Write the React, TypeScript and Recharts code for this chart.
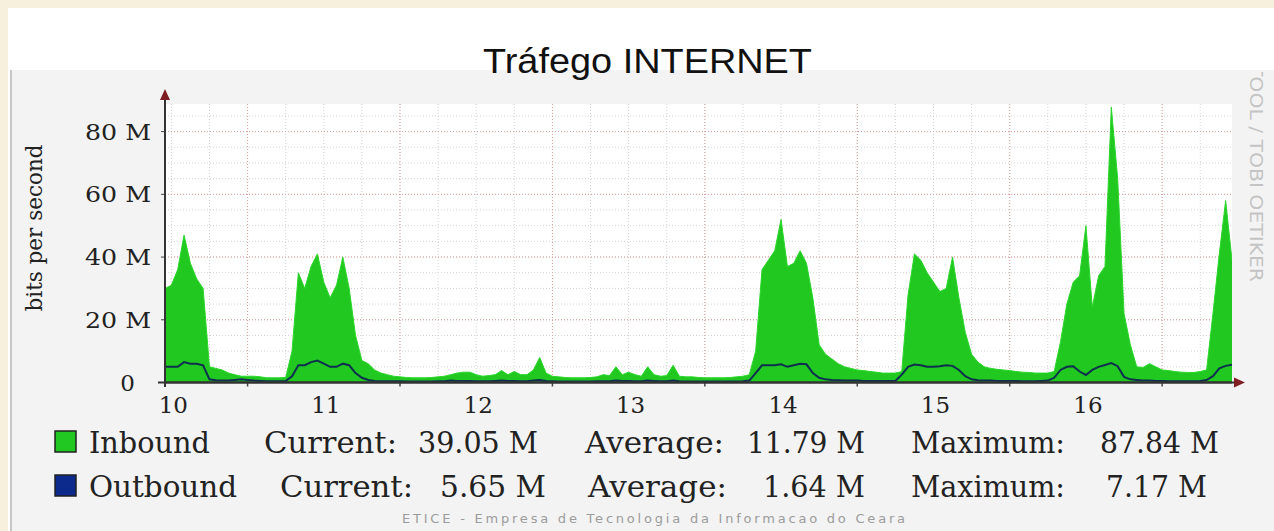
import { ComposedChart, Area, Line, XAxis, YAxis, CartesianGrid } from 'recharts'

// hours counted from midnight of day 10, one sample per hour
const hours = Array.from({ length: 169 }, (_, i) => 11 + i)

const inbound = [
  // day 10, 11h..23h
  30, 31, 36, 47, 38, 33, 30, 5, 4.5, 4, 3, 2.5, 2,
  // day 11
  2, 2, 1.8, 1.5, 1.5, 1.5, 1.6, 10, 35, 30, 37, 41, 32, 27, 31, 40, 30, 15, 7, 6, 4, 3, 2.5, 2,
  // day 12
  1.8, 1.6, 1.5, 1.5, 1.5, 1.6, 1.8, 2, 2.5, 3, 3.3, 3.3, 2.5, 2, 2.2, 2.5, 3.8, 2.5, 3.5, 2.5, 2.5, 4, 8, 3,
  // day 13
  2, 1.8, 1.6, 1.5, 1.5, 1.5, 1.6, 1.8, 2.5, 2.2, 5, 2.5, 3.3, 2.5, 2, 5, 2.5, 2, 2.2, 5.5, 2, 1.8, 1.8, 1.6,
  // day 14
  1.5, 1.5, 1.5, 1.5, 1.6, 1.8, 2, 2.5, 10, 36, 39, 42, 52, 37, 38, 42, 38, 27, 12, 9, 7.5, 6, 5, 4.5,
  // day 15
  4, 3.8, 3.5, 3.3, 3, 3, 3, 3.5, 28, 41, 39, 35, 32, 29, 30, 40, 27, 16, 9, 6.5, 5, 4.5, 4.2, 4,
  // day 16
  3.8, 3.5, 3.3, 3.2, 3, 3, 3, 3.5, 13, 25, 32, 34, 50, 24, 34, 37, 87.8, 65, 22, 12, 5, 4.8, 6, 5,
  // day 17, 0h..11h
  4, 3.8, 3.5, 3.3, 3.2, 3.2, 3.5, 4, 22, 41, 58, 39,
]

const outbound = [
  5, 5, 5, 6.5, 6, 6, 5.5, 1, 0.7, 0.6, 0.6, 0.8, 1,
  0.8, 0.6, 0.5, 0.4, 0.4, 0.4, 0.5, 2, 5.5, 5.5, 6.5, 7, 6, 5, 5, 6, 5.5, 3, 1.5, 0.8, 0.5, 0.4, 0.4, 0.4,
  0.4, 0.3, 0.3, 0.3, 0.3, 0.3, 0.4, 0.4, 0.6, 0.5, 0.5, 0.5, 0.4, 0.4, 0.4, 0.5, 0.6, 0.5, 0.5, 0.4, 0.4, 0.6, 0.8, 0.5,
  0.4, 0.3, 0.3, 0.3, 0.3, 0.3, 0.3, 0.4, 0.4, 0.4, 0.6, 0.5, 0.5, 0.4, 0.4, 0.6, 0.5, 0.4, 0.4, 0.6, 0.4, 0.3, 0.3, 0.3,
  0.3, 0.3, 0.3, 0.3, 0.3, 0.3, 0.4, 0.6, 3, 5.5, 5.5, 5.5, 5.8, 5, 5.5, 6, 5.8, 3, 1.5, 1, 0.8, 0.7, 0.6, 0.6,
  0.6, 0.5, 0.5, 0.5, 0.5, 0.5, 0.5, 2.5, 5, 5.7, 5.5, 5, 5, 5.2, 5.5, 5.3, 4, 2, 1, 0.7, 0.6, 0.6, 0.5, 0.5,
  0.5, 0.5, 0.4, 0.4, 0.4, 0.5, 0.6, 1.5, 4, 5, 5.2, 3.5, 2.4, 4, 5, 5.6, 6.2, 5.2, 1.8, 1, 0.8, 0.6, 0.6, 0.5,
  0.5, 0.4, 0.4, 0.4, 0.4, 0.4, 0.5, 0.8, 2, 4.5, 5.3, 5.65,
]

const dayLabels = ['10', '11', '12', '13', '14', '15', '16']
const noonHours = [12, 36, 60, 84, 108, 132, 156]
const midnightHours = [24, 48, 72, 96, 120, 144, 168]
const sixHourLines = [12, 18, 24, 30, 36, 42, 48, 54, 60, 66, 72, 78, 84, 90, 96, 102, 108, 114, 120, 126, 132, 138, 144, 150, 156, 162, 168, 174]
const yTicks = [0, 20, 40, 60, 80]
const yMinor = [5, 10, 15, 20, 25, 30, 35, 40, 45, 50, 55, 60, 65, 70, 75, 80, 85]

const legendRows = [
  { color: '#22c822', y: 453, parts: [['Inbound', 89, 121], ['Current:', 264, 133], ['39.05 M', 418, 120], ['Average:', 585, 139], ['11.79 M', 747, 118], ['Maximum:', 911, 154], ['87.84 M', 1100, 119]] },
  { color: '#0b2a8c', y: 497, parts: [['Outbound', 89, 148], ['Current:', 280, 133], ['5.65 M', 440, 106], ['Average:', 588, 139], ['1.64 M', 763, 102], ['Maximum:', 911, 154], ['7.17 M', 1106, 101]] },
]

const rows = hours.map((h, i) => ({ h, inbound: inbound[i], outbound: outbound[i] }))

const serif = 'DejaVu Serif'

function XTick(props: any) {
  const { x, y, payload } = props
  const v = payload.value
  if (v % 24 === 0) {
    return <line x1={x} x2={x} y1={y} y2={y + 4} stroke="#444" strokeWidth={1.5} />
  }
  return (
    <text x={x + 2} y={y + 30.5} textAnchor="middle" fontFamily={serif} fontSize={23} fill="#222">
      {dayLabels[noonHours.indexOf(v)]}
    </text>
  )
}

function YTick(props: any) {
  const { x, y, payload } = props
  const v = payload.value
  if (v === 0) {
    return (
      <text x={x - 16} y={y + 8} textAnchor="end" fontFamily={serif} fontSize={23} fill="#222">0</text>
    )
  }
  return (
    <text x={x} y={y + 8} textAnchor="end" fontFamily={serif} fontSize={23} fill="#222" textLength={66} lengthAdjust="spacingAndGlyphs">
      {`${v} M`}
    </text>
  )
}

export default function App() {
  return (
    <div style={{ position: 'absolute', left: 0, top: 0, width: 1274, height: 531, background: '#f7f0dc', overflow: 'hidden' }}>
      <div style={{ position: 'absolute', left: 8, top: 8, width: 1266, height: 523, background: '#fff' }} />
      <div style={{ position: 'absolute', left: 10, top: 70, width: 1264, height: 461, background: '#f3f3f3', borderLeft: '2px solid #c6c6c6' }} />

      <div style={{ position: 'absolute', left: 0, top: 0 }}>
        <ComposedChart width={1274} height={531} data={rows} margin={{ top: 104, right: 42, bottom: 108.5, left: 105 }}>
          <CartesianGrid
            fill="#fff"
            verticalValues={sixHourLines}
            horizontalValues={yMinor}
            stroke="#d4d4d4"
            strokeDasharray="1 2"
          />
          <CartesianGrid
            verticalValues={midnightHours}
            horizontalValues={yTicks.slice(1)}
            stroke="#dc9c9c"
            strokeDasharray="1 2"
          />
          <XAxis
            type="number"
            dataKey="h"
            domain={[11, 179]}
            allowDataOverflow
            ticks={[...midnightHours, ...noonHours].sort((a, b) => a - b)}
            interval={0}
            tick={<XTick />}
            tickLine={false}
            tickSize={0}
            tickMargin={0}
            height={40}
            axisLine={{ stroke: '#333', strokeWidth: 2 }}
          />
          <YAxis
            domain={[0, 88.8]}
            allowDataOverflow
            ticks={yTicks}
            interval={0}
            tick={<YTick />}
            width={60}
            tickSize={4}
            tickMargin={10}
            tickLine={{ stroke: '#444' }}
            axisLine={{ stroke: '#333', strokeWidth: 2 }}
          />
          <Area
            type="linear"
            dataKey="inbound"
            fill="#20c820"
            fillOpacity={1}
            stroke="#2ad62a"
            strokeWidth={1}
            isAnimationActive={false}
          />
          <Line
            type="linear"
            dataKey="outbound"
            stroke="#0f2f4f"
            strokeWidth={2}
            dot={false}
            activeDot={false}
            isAnimationActive={false}
          />
        </ComposedChart>
      </div>

      <svg width={1274} height={531} style={{ position: 'absolute', left: 0, top: 0, pointerEvents: 'none' }}>
        <defs>
          <clipPath id="panelClip">
            <rect x={1200} y={72} width={74} height={459} />
          </clipPath>
        </defs>
        {/* axis extensions and arrows */}
        <line x1={165} x2={165} y1={98} y2={387} stroke="#333" strokeWidth={2} />
        <polygon points="165,89 160,100 170,100" fill="#7f1e22" />
        <line x1={158} x2={1236} y1={382.5} y2={382.5} stroke="#333" strokeWidth={2} />
        <polygon points="1245,382.5 1234,377.5 1234,387.5" fill="#7f1e22" />

        <text x={647.5} y={73} textAnchor="middle" fontFamily="Liberation Sans" fontSize={35} fill="#111" textLength={329} lengthAdjust="spacingAndGlyphs">
          Tráfego INTERNET
        </text>

        <text transform="translate(42,228) rotate(-90)" textAnchor="middle" fontFamily={serif} fontSize={22} fill="#222" textLength={167} lengthAdjust="spacingAndGlyphs">
          bits per second
        </text>

        <g clipPath="url(#panelClip)">
          <text transform="translate(1250,20) rotate(90)" fontFamily="DejaVu Sans" fontSize={17} fill="#c4c4c4" textLength={262} lengthAdjust="spacingAndGlyphs">
            RRDTOOL / TOBI OETIKER
          </text>
        </g>

        {legendRows.map((row) => (
          <g key={row.y}>
            <rect x={55} y={row.y - 22} width={21} height={21} fill={row.color} stroke="#222" strokeWidth={1.5} />
            {row.parts.map(([t, x, w]) => (
              <text key={t as string} x={x as number} y={row.y} fontFamily={serif} fontSize={29} fill="#222" textLength={w as number} lengthAdjust="spacingAndGlyphs">
                {t}
              </text>
            ))}
          </g>
        ))}

        <text x={402} y={523} fontFamily="DejaVu Sans" fontSize={13} fill="#9c9c9c" textLength={503} lengthAdjust="spacing">
          ETICE - Empresa de Tecnologia da Informacao do Ceara
        </text>
      </svg>
    </div>
  )
}
